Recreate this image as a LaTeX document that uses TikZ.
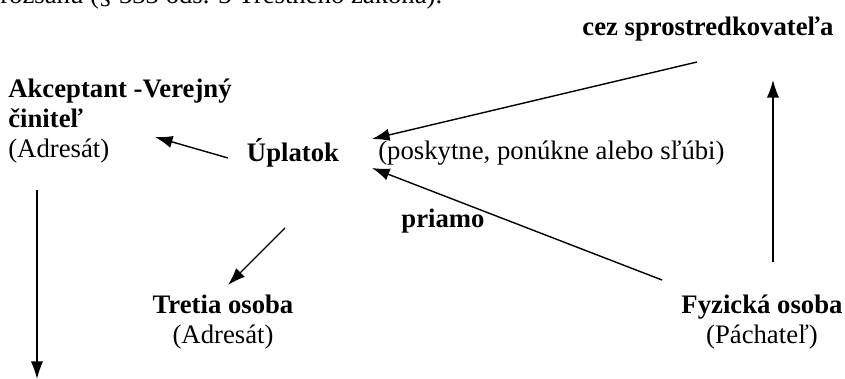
\documentclass[tikz,border=0pt]{standalone}
\usepackage{fontspec}
\setmainfont{Liberation Serif}
\usetikzlibrary{arrows.meta}

\begin{document}
\begin{tikzpicture}[x=0.2mm,y=-0.2mm,
  every node/.style={inner sep=0pt},
  txt/.style={font=\fontsize{15.2}{17}\selectfont},
  btxt/.style={font=\fontsize{15.2}{17}\selectfont\bfseries},
  arr/.style={-{Latex[length=10pt,width=7pt]},line width=0.8pt}]
\useasboundingbox (0,0) rectangle (845,379);

\node[txt,anchor=base west] (rozsah) at (0,4) {rozsahu (§ 333 ods. 3 Trestného zákona).};
\node[btxt] (sprost) at (708,29) {cez sprostredkovateľa};
\node[txt,anchor=north west,align=left] (akcept) at (8,79)
  {\textbf{Akceptant -Verejný}\\\textbf{činiteľ}\\(Adresát)};
\node[btxt] (uplatok) at (293,153) {Úplatok};
\node[txt,anchor=west] (posk) at (378,153) {(poskytne, ponúkne alebo sľúbi)};
\node[btxt] (priamo) at (443,221) {priamo};
\node[txt,anchor=north,align=center] (tretia) at (223,295) {\textbf{Tretia osoba}\\(Adresát)};
\node[txt,anchor=north,align=center] (fyzicka) at (762,295) {\textbf{Fyzická osoba}\\(Páchateľ)};

% konce sipok
\coordinate (s1) at (697,62);  \coordinate (t1) at (372,139);
\coordinate (s2) at (228,158); \coordinate (t2) at (155,137);
\coordinate (s3) at (37,190);  \coordinate (t3) at (37,379);
\coordinate (s4) at (285,228); \coordinate (t4) at (228,285);
\coordinate (s5) at (662,280); \coordinate (t5) at (372,168);
\coordinate (s6) at (773,262); \coordinate (t6) at (773,80);

\draw[arr] (s1) -- (t1);
\draw[arr] (s2) -- (t2);
\draw[arr] (s3) -- (t3);
\draw[arr] (s4) -- (t4);
\draw[arr] (s5) -- (t5);
\draw[arr] (s6) -- (t6);
\end{tikzpicture}
\end{document}
